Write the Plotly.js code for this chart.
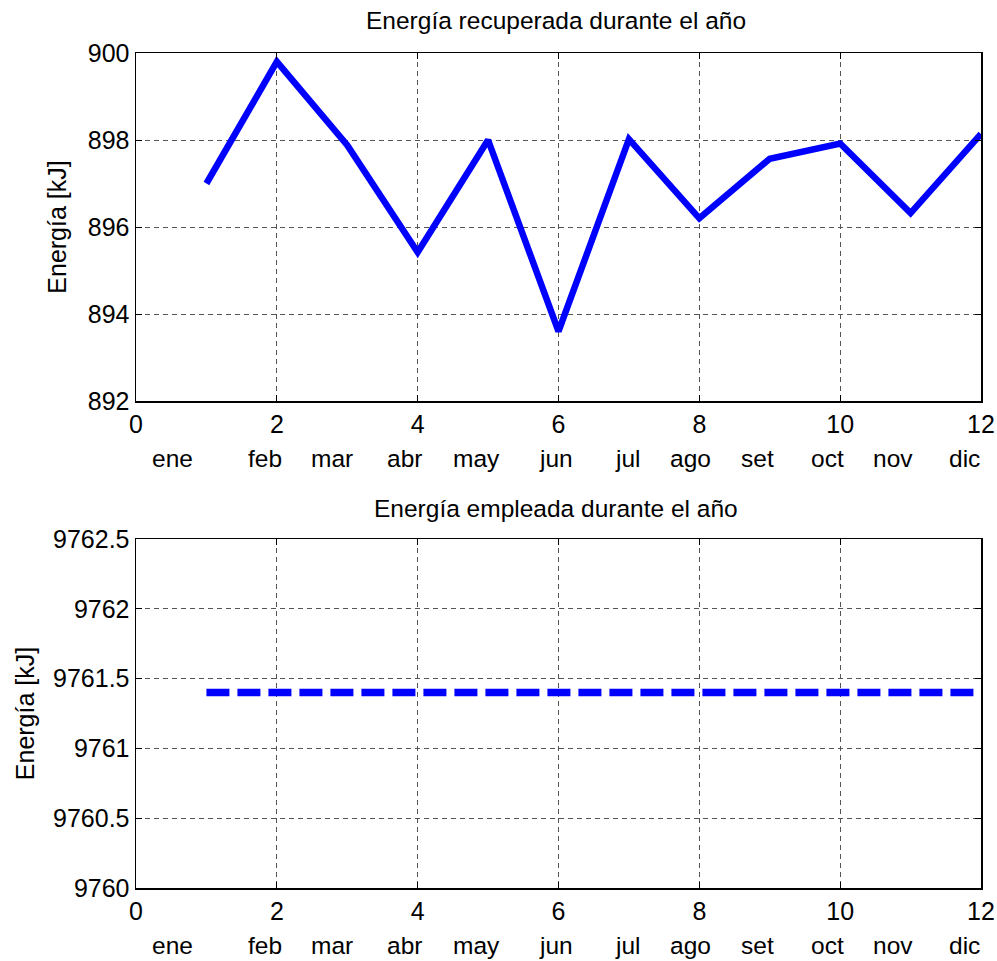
<!DOCTYPE html>
<html>
<head>
<meta charset="utf-8">
<script src="https://cdn.plot.ly/plotly-3.0.1.min.js"></script>
<style>html,body{margin:0;padding:0;background:#fff;}#chart{width:997px;height:961px;}</style>
</head>
<body>
<div id="chart"></div>
<script>
const months = [1,2,3,4,5,6,7,8,9,10,11,12];
const monthNames = ['ene','feb','mar','abr','may','jun','jul','ago','set','oct','nov','dic'];
const energyRecovered = [897.0, 899.8, 897.88, 895.42, 898.0, 893.6, 898.02, 896.2, 897.57, 897.92, 896.32, 898.14];
const energyUsed = [9761.4, 9761.4, 9761.4, 9761.4, 9761.4, 9761.4, 9761.4, 9761.4, 9761.4, 9761.4, 9761.4, 9761.4];
const xTicks = [0,2,4,6,8,10,12];
const yTicksTop = [892,894,896,898,900];
const yTicksBottom = [9760,9760.5,9761,9761.5,9762,9762.5];
const titleTop = 'Energía recuperada durante el año';
const titleBottom = 'Energía empleada durante el año';
const yLabel = 'Energía [kJ]';

const FONT = 'Arial, "Liberation Sans", sans-serif';
// label placement (layout only)
const monthLabelX = [0.52,1.83,2.79,3.81,4.83,5.97,6.98,7.87,8.83,9.82,10.75,11.77];

const axisCommon = {
  showline: true, linecolor: '#000', linewidth: 1.5, mirror: 'ticks',
  ticks: 'inside', ticklen: 6, tickwidth: 1, tickcolor: '#000',
  showgrid: true, gridcolor: '#555', gridwidth: 1, griddash: '5px,4px',
  zeroline: false,
  tickfont: {family: FONT, size: 25, color: '#000'}
};

const traces = [
  {x: months, y: energyRecovered, type: 'scatter', mode: 'lines', xaxis: 'x', yaxis: 'y',
   line: {color: '#0000ff', width: 6.5}, hoverinfo: 'skip'},
  {x: months, y: energyUsed, type: 'scatter', mode: 'lines', xaxis: 'x2', yaxis: 'y2',
   line: {color: '#0000ff', width: 7.5, dash: '23px,8px'}, hoverinfo: 'skip'}
];

const annotations = [];
monthNames.forEach((m, i) => {
  annotations.push({x: monthLabelX[i], xref: 'x', y: 1 - 458/961, yref: 'paper', text: m,
    showarrow: false, font: {family: FONT, size: 24.5, color: '#000'}, xanchor: 'center', yanchor: 'middle'});
  annotations.push({x: monthLabelX[i], xref: 'x2', y: 1 - 945/961, yref: 'paper', text: m,
    showarrow: false, font: {family: FONT, size: 24.5, color: '#000'}, xanchor: 'center', yanchor: 'middle'});
});
annotations.push({x: 556/997, xref: 'paper', y: 1 - 21/961, yref: 'paper', text: titleTop,
  showarrow: false, font: {family: FONT, size: 24.5, color: '#000'}, xanchor: 'center', yanchor: 'middle'});
annotations.push({x: 556/997, xref: 'paper', y: 1 - 508/961, yref: 'paper', text: titleBottom,
  showarrow: false, font: {family: FONT, size: 24.5, color: '#000'}, xanchor: 'center', yanchor: 'middle'});

const layout = {
  width: 997, height: 961,
  margin: {l: 0, r: 0, t: 0, b: 0},
  paper_bgcolor: '#fff', plot_bgcolor: '#fff',
  showlegend: false,
  xaxis: Object.assign({}, axisCommon, {domain: [136/997, 981/997], range: [0, 12], tickmode: 'array', tickvals: xTicks, anchor: 'y'}),
  yaxis: Object.assign({}, axisCommon, {domain: [1 - 401/961, 1 - 53/961], range: [892, 900], tickmode: 'array', tickvals: yTicksTop, anchor: 'x',
    title: {text: yLabel, font: {family: FONT, size: 25, color: '#000'}, standoff: 14}}),
  xaxis2: Object.assign({}, axisCommon, {domain: [136/997, 981/997], range: [0, 12], tickmode: 'array', tickvals: xTicks, anchor: 'y2'}),
  yaxis2: Object.assign({}, axisCommon, {domain: [1 - 888/961, 1 - 539/961], range: [9760, 9762.5], tickmode: 'array', tickvals: yTicksBottom,
    ticktext: yTicksBottom.map(v => String(v)), anchor: 'x2',
    title: {text: yLabel, font: {family: FONT, size: 25, color: '#000'}, standoff: 11}}),
  annotations: annotations
};

Plotly.newPlot('chart', traces, layout, {staticPlot: true, displayModeBar: false});
</script>
</body>
</html>
